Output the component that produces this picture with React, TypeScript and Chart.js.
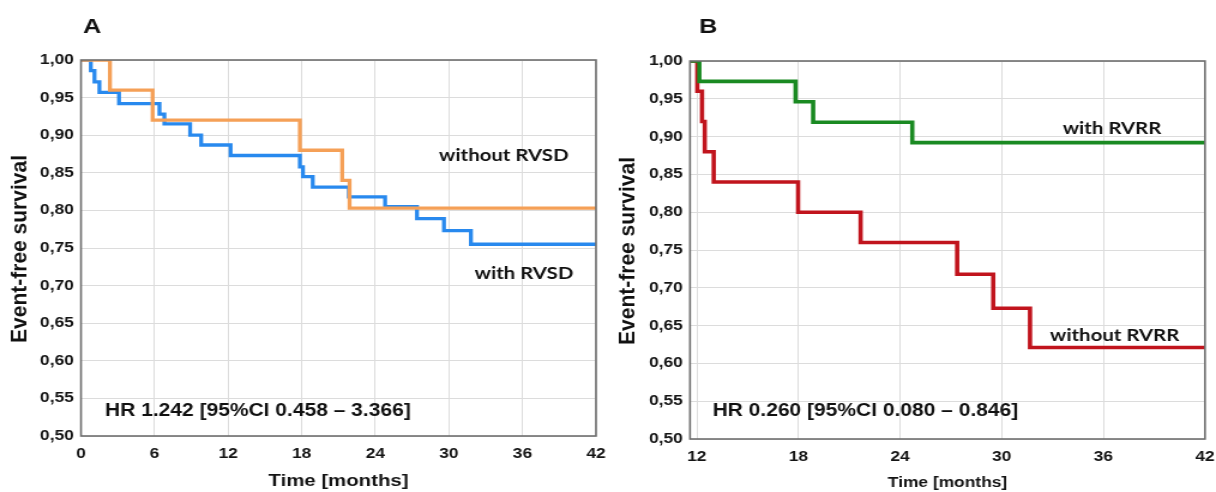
import React, { useEffect, useRef } from 'react';
import { Chart, registerables } from 'chart.js';

Chart.register(...registerables);

// ---------- data ----------
const Y_TICKS = [0.5, 0.55, 0.6, 0.65, 0.7, 0.75, 0.8, 0.85, 0.9, 0.95, 1.0];

const A_X_TICKS = [0, 6, 12, 18, 24, 30, 36, 42];
const B_X_TICKS = [12, 18, 24, 30, 36, 42];

// Panel A: RV systolic dysfunction
const WITH_RVSD_T = [0, 0.8, 1.1, 1.5, 3.1, 6.4, 6.8, 8.9, 9.8, 12.2, 17.85, 18.1, 18.9, 21.85, 24.8, 27.4, 29.6, 31.8, 42];
const WITH_RVSD_S = [1.0, 0.986, 0.971, 0.957, 0.942, 0.928, 0.915, 0.9, 0.887, 0.873, 0.858, 0.845, 0.831, 0.818, 0.805, 0.789, 0.773, 0.755, 0.755];
const WITHOUT_RVSD_T = [0, 2.36, 5.84, 17.85, 21.3, 21.9, 42];
const WITHOUT_RVSD_S = [1.0, 0.96, 0.92, 0.88, 0.84, 0.803, 0.803];

// Panel B: RV reverse remodeling
const WITH_RVRR_T = [11.6, 12.15, 17.83, 18.87, 24.72, 42];
const WITH_RVRR_S = [1.0, 0.973, 0.946, 0.919, 0.892, 0.892];
const WITHOUT_RVRR_T = [11.6, 12.03, 12.31, 12.47, 13.0, 17.98, 21.67, 27.37, 29.5, 31.67, 42];
const WITHOUT_RVRR_S = [1.0, 0.96, 0.92, 0.88, 0.84, 0.8, 0.76, 0.718, 0.673, 0.621, 0.621];

const HR_A = 'HR 1.242 [95%CI 0.458 \u2013 3.366]';
const HR_B = 'HR 0.260 [95%CI 0.080 \u2013 0.846]';

// ---------- layout ----------
const PANEL_W = 608;
const PANEL_H = 492;
const CANVAS_W = 507; // the source figure is stretched horizontally
const S = PANEL_W / CANVAS_W;

const ARIAL = '"Liberation Sans", Arial, sans-serif';
const LABEL_FONT = 'Lato, "Open Sans", sans-serif';

type Series = { t: number[]; s: number[]; color: string; width: number };
type Note = { text: string; x: number; y: number; font: string };
type PanelSpec = {
  letter: string;
  letterX: number;
  xMin: number;
  xMax: number;
  xTicks: number[];
  plotLeft: number; // css px within panel
  plotRight: number;
  plotTop: number;
  plotBottom: number;
  tickSize: number;
  xTitleSize: number;
  series: Series[];
  notes: Note[];
};

const panelA: PanelSpec = {
  letter: 'A',
  letterX: 83,
  xMin: 0,
  xMax: 42,
  xTicks: A_X_TICKS,
  plotLeft: 81,
  plotRight: 596,
  plotTop: 60,
  plotBottom: 436,
  tickSize: 14.5,
  xTitleSize: 17,
  series: [
    { t: WITHOUT_RVSD_T, s: WITHOUT_RVSD_S, color: '#f5a057', width: 3.3 },
    { t: WITH_RVSD_T, s: WITH_RVSD_S, color: '#2889ee', width: 3.3 },
  ],
  notes: [
    { text: 'without RVSD', x: 29.2, y: 0.866, font: `bold 17px ${LABEL_FONT}` },
    { text: 'with RVSD', x: 32.1, y: 0.709, font: `bold 17px ${LABEL_FONT}` },
    { text: HR_A, x: 1.96, y: 0.527, font: `bold 17.5px ${ARIAL}` },
  ],
};

const panelB: PanelSpec = {
  letter: 'B',
  letterX: 91,
  xMin: 11.6,
  xMax: 42,
  xTicks: B_X_TICKS,
  plotLeft: 82,
  plotRight: 597,
  plotTop: 61,
  plotBottom: 439,
  tickSize: 14.5,
  xTitleSize: 14.5,
  series: [
    { t: WITH_RVRR_T, s: WITH_RVRR_S, color: '#1a8a22', width: 3.6 },
    { t: WITHOUT_RVRR_T, s: WITHOUT_RVRR_S, color: '#c1141d', width: 3.6 },
  ],
  notes: [
    { text: 'with RVRR', x: 33.6, y: 0.903, font: `bold 17px ${LABEL_FONT}` },
    { text: 'without RVRR', x: 32.85, y: 0.63, font: `bold 17px ${LABEL_FONT}` },
    { text: HR_B, x: 12.93, y: 0.530, font: `bold 17.5px ${ARIAL}` },
  ],
};

// ---------- drawing helpers ----------
const decorPlugin = {
  id: 'panelDecor',
  afterDraw(chart: any, _args: any, opts: any) {
    const { ctx, chartArea } = chart;
    const xs = chart.scales.x;
    const ys = chart.scales.y;
    ctx.save();
    // frame
    ctx.strokeStyle = '#6e6e6e';
    ctx.lineWidth = 1.6;
    ctx.strokeRect(chartArea.left, chartArea.top, chartArea.right - chartArea.left, chartArea.bottom - chartArea.top);

    ctx.fillStyle = '#111111';
    // panel letter
    ctx.font = `bold 21px ${ARIAL}`;
    ctx.textAlign = 'left';
    ctx.textBaseline = 'alphabetic';
    ctx.fillText(opts.letter, opts.letterX / S, 33);

    // y axis title (rotated, compensating horizontal stretch)
    ctx.save();
    ctx.translate(21 / S, (chartArea.top + chartArea.bottom) / 2 + 1);
    ctx.rotate(-Math.PI / 2);
    ctx.scale(1, 1 / S);
    ctx.font = `bold 21px ${ARIAL}`;
    ctx.textAlign = 'center';
    ctx.textBaseline = 'middle';
    ctx.fillText('Event-free survival', 0, 0);
    ctx.restore();

    // in-plot labels
    ctx.textAlign = 'left';
    ctx.textBaseline = 'alphabetic';
    for (const n of opts.notes as Note[]) {
      ctx.font = n.font;
      ctx.fillText(n.text, xs.getPixelForValue(n.x), ys.getPixelForValue(n.y));
    }
    ctx.restore();
  },
};

function makeConfig(p: PanelSpec): any {
  const left = p.plotLeft / S;
  const right = p.plotRight / S;
  return {
    type: 'line',
    data: {
      datasets: p.series.map((s) => ({
        data: s.t.map((t, i) => ({ x: t, y: s.s[i] })),
        borderColor: s.color,
        backgroundColor: s.color,
        borderWidth: s.width,
        stepped: 'before',
        pointRadius: 0,
        pointHoverRadius: 0,
        fill: false,
        tension: 0,
      })),
    },
    options: {
      animation: false,
      responsive: false,
      devicePixelRatio: 1,
      events: [],
      layout: { padding: { left: 0, right: CANVAS_W - right, top: p.plotTop, bottom: 0 } },
      plugins: {
        legend: { display: false },
        tooltip: { enabled: false },
        panelDecor: { letter: p.letter, letterX: p.letterX, notes: p.notes },
      },
      scales: {
        x: {
          type: 'linear',
          min: p.xMin,
          max: p.xMax,
          afterBuildTicks: (axis: any) => {
            axis.ticks = p.xTicks.map((v) => ({ value: v }));
          },
          afterFit: (axis: any) => {
            axis.height = PANEL_H - p.plotBottom;
            axis.paddingLeft = 0;
            axis.paddingRight = 0;
          },
          grid: { color: '#dcdcdc', lineWidth: 1, drawTicks: false },
          border: { display: false },
          ticks: {
            padding: 9,
            color: '#141414',
            maxRotation: 0,
            autoSkip: false,
            font: { family: ARIAL, size: p.tickSize, weight: 'bold' },
            callback: (v: any) => String(v),
          },
          title: {
            display: true,
            text: 'Time [months]',
            color: '#141414',
            padding: { top: 0, bottom: 0 },
            font: { family: ARIAL, size: p.xTitleSize, weight: 'bold', lineHeight: 1.2 },
          },
        },
        y: {
          type: 'linear',
          min: 0.5,
          max: 1.0,
          afterBuildTicks: (axis: any) => {
            axis.ticks = Y_TICKS.map((v) => ({ value: v }));
          },
          afterFit: (axis: any) => {
            axis.width = left;
            axis.paddingTop = 0;
            axis.paddingBottom = 0;
          },
          grid: { color: '#dcdcdc', lineWidth: 1, drawTicks: false },
          border: { display: false },
          ticks: {
            padding: 6,
            color: '#141414',
            autoSkip: false,
            font: { family: ARIAL, size: p.tickSize, weight: 'bold' },
            callback: (v: any) => Number(v).toFixed(2).replace('.', ','),
          },
        },
      },
    },
    plugins: [decorPlugin],
  };
}

function Panel({ spec, left }: { spec: PanelSpec; left: number }) {
  const ref = useRef<HTMLCanvasElement>(null);
  useEffect(() => {
    const chart = new Chart(ref.current as HTMLCanvasElement, makeConfig(spec));
    return () => chart.destroy();
  }, [spec]);
  return (
    <canvas
      ref={ref}
      width={CANVAS_W}
      height={PANEL_H}
      style={{ position: 'absolute', left, top: 0, width: PANEL_W, height: PANEL_H }}
    />
  );
}

export default function App() {
  return (
    <div
      style={{
        position: 'absolute',
        left: 0,
        top: 0,
        width: 1216,
        height: 492,
        background: '#ffffff',
        overflow: 'hidden',
      }}
    >
      <Panel spec={panelA} left={0} />
      <Panel spec={panelB} left={608} />
    </div>
  );
}
